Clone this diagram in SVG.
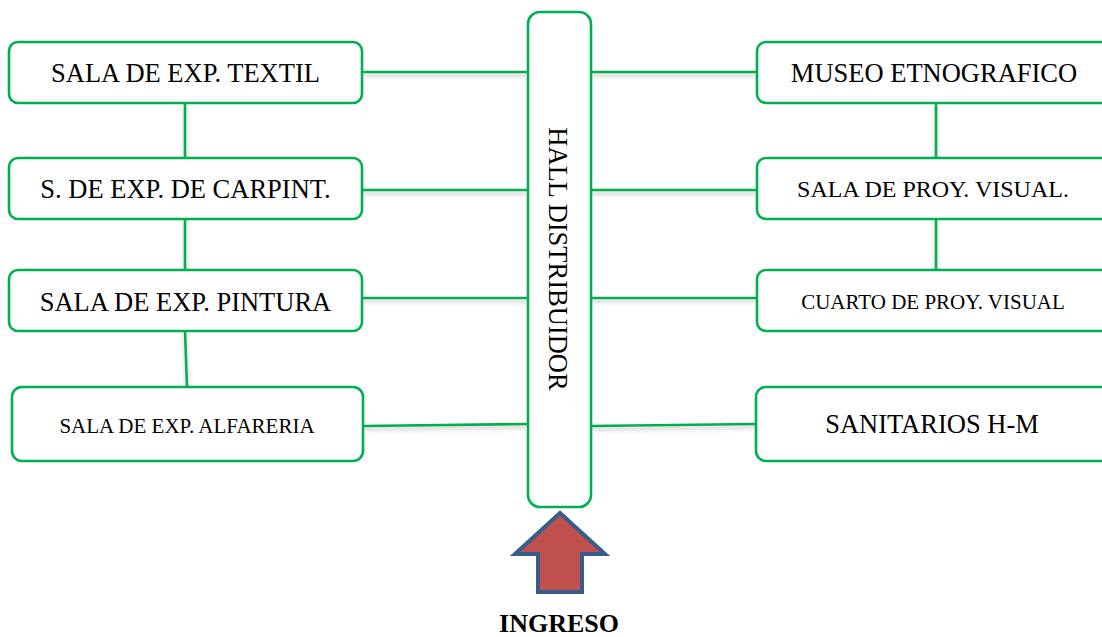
<svg xmlns="http://www.w3.org/2000/svg" width="1102" height="637" viewBox="0 0 1102 637">
<style>
.box{fill:#ffffff;stroke:#00B050;stroke-width:2.6}
.lbl{font-family:"Liberation Serif","Times New Roman",serif;fill:#000;text-anchor:middle}
.conn line{stroke:#00B050;stroke-width:2.6}
</style>
<defs>
<filter id="sh" x="-10%" y="-50%" width="120%" height="300%">
<feDropShadow dx="0" dy="3" stdDeviation="2" flood-color="#808080" flood-opacity="0.45"/>
</filter>
</defs>
<rect width="1102" height="637" fill="#ffffff"/>
<g id="connectors" class="conn" filter="url(#sh)">
<line x1="362" y1="72" x2="528" y2="72"/>
<line x1="362" y1="190" x2="528" y2="190"/>
<line x1="362" y1="298" x2="528" y2="298"/>
<line x1="363" y1="426" x2="528" y2="424"/>
<line x1="591" y1="72" x2="757" y2="72"/>
<line x1="591" y1="190" x2="757" y2="190"/>
<line x1="591" y1="298" x2="757" y2="298"/>
<line x1="591" y1="426" x2="756" y2="424"/>
<line x1="185" y1="103" x2="185" y2="158"/>
<line x1="185" y1="219" x2="185" y2="270"/>
<line x1="185" y1="331" x2="187" y2="387"/>
<line x1="936" y1="103" x2="936" y2="158"/>
<line x1="936" y1="219" x2="936" y2="270"/>
</g>
<g id="hall">
<rect class="box" x="528" y="12" width="63" height="495" rx="12"/>
<text class="lbl" font-size="26.5" transform="translate(549,259) rotate(90)">HALL DISTRIBUIDOR</text>
</g>
<g id="textil">
<rect class="box" x="9" y="42" width="353" height="61" rx="9"/>
<text class="lbl" x="185.5" y="82" font-size="26.5">SALA DE EXP. TEXTIL</text>
</g>
<g id="carpint">
<rect class="box" x="9" y="158" width="353" height="61" rx="9"/>
<text class="lbl" x="185.5" y="198" font-size="26.5">S. DE EXP. DE CARPINT.</text>
</g>
<g id="pintura">
<rect class="box" x="9" y="270" width="353" height="61" rx="9"/>
<text class="lbl" x="185.5" y="311" font-size="26.5">SALA DE EXP. PINTURA</text>
</g>
<g id="alfareria">
<rect class="box" x="12" y="387" width="351" height="74" rx="10"/>
<text class="lbl" x="187" y="433" font-size="21">SALA DE EXP. ALFARERIA</text>
</g>
<g id="museo">
<rect class="box" x="757" y="42" width="354" height="61" rx="9"/>
<text class="lbl" x="934" y="82" font-size="26.5">MUSEO ETNOGRAFICO</text>
</g>
<g id="proyeccion">
<rect class="box" x="757" y="158" width="354" height="61" rx="9"/>
<text class="lbl" x="933" y="197" font-size="24">SALA DE PROY. VISUAL.</text>
</g>
<g id="cuarto">
<rect class="box" x="757" y="270" width="354" height="61" rx="9"/>
<text class="lbl" x="933" y="309" font-size="21">CUARTO DE PROY. VISUAL</text>
</g>
<g id="sanitarios">
<rect class="box" x="756" y="387" width="355" height="74" rx="10"/>
<text class="lbl" x="932" y="433" font-size="26.5">SANITARIOS H-M</text>
</g>
<g id="ingreso">
<polygon points="560,513 605,554 582,554 582,592 538,592 538,554 515,554" fill="#C0504D" stroke="#385D8A" stroke-width="4" stroke-linejoin="miter"/>
<text class="lbl" x="559" y="632" font-size="26" font-weight="bold">INGRESO</text>
</g>
</svg>
